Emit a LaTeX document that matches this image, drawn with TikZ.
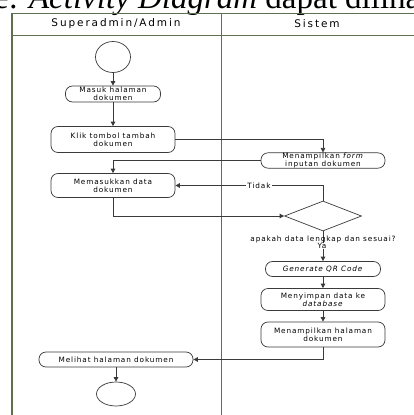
\documentclass[tikz,border=0pt]{standalone}
\usepackage{fontspec}
\setmainfont{Liberation Serif}
\newfontfamily\boxfont[LetterSpace=12]{DejaVu Sans}
\newfontfamily\headfont[LetterSpace=18]{DejaVu Sans}
\usetikzlibrary{arrows.meta,shapes.geometric}
\definecolor{lane}{HTML}{5E7050}
\definecolor{ink}{HTML}{3A3A3A}
\tikzset{
  act/.style={draw=ink, line width=0.7pt, rounded corners=7pt, align=center, inner sep=0pt,
    font=\boxfont\fontsize{7.3}{8.3}\selectfont},
  lbl/.style={font=\boxfont\fontsize{7.3}{8.3}\selectfont, inner sep=1pt},
  conn/.style={draw=ink, line width=0.7pt, -{Triangle[length=4.5pt,width=4.5pt]}},
  lanel/.style={draw=lane, line width=0.9pt},
  terminal/.style={draw=ink, line width=0.7pt, ellipse, inner sep=0pt}
}
\begin{document}
\begin{tikzpicture}[x=1pt,y=-1pt]
\useasboundingbox (0,0) rectangle (414,415);
\fill[white] (0,0) rectangle (414,415);
% cropped caption line at top
\begin{scope}
\clip (0,0) rectangle (414,415);
\node[anchor=base west, inner sep=0pt, font=\fontsize{33}{33}\selectfont] (cap) at (-6,9) {e: \textit{Activity Diagram} dapat dilihat};
\end{scope}
% swimlanes
\draw[lanel] (12,13) -- (414,13);
\draw[lanel] (12,35) -- (414,35);
\draw[lanel, line width=1.4pt] (12,13) -- (12,415);
\draw[lanel] (221,13) -- (221,415);
\node[font=\headfont\fontsize{10.5}{12}\selectfont, inner sep=0pt] (h1) at (116,24) {Superadmin/Admin};
\node[font=\headfont\fontsize{10.5}{12}\selectfont, inner sep=0pt] (h2) at (317,24) {Sistem};
% left lane
\node[terminal, minimum width=35pt, minimum height=31pt] (s) at (113,57) {};
\node[act, minimum width=95pt, minimum height=16pt] (a1) at (113,94) {Masuk halaman\\dokumen};
\node[act, minimum width=124pt, minimum height=26pt] (a2) at (113,139.5) {Klik tombol tambah\\dokumen};
\node[act, minimum width=124pt, minimum height=24pt] (a3) at (113,185.5) {Memasukkan data\\dokumen};
\node[act, minimum width=154pt, minimum height=15pt] (mel) at (116,359.5) {Melihat halaman dokumen};
\node[terminal, minimum width=39pt, minimum height=24pt] (e) at (116,394) {};
% right lane
\node[act, minimum width=124pt, minimum height=15pt] (a4) at (323,160.5) {Menampilkan \textit{form}\\inputan dokumen};
\node[draw=ink, line width=0.7pt, diamond, aspect=2.6, minimum width=77pt, minimum height=30pt, inner sep=0pt] (d) at (323,216) {};
\node[act, minimum width=115pt, minimum height=15pt] (g) at (323,269) {\textit{Generate QR Code}};
\node[act, minimum width=124pt, minimum height=22pt] (m1) at (323,299.5) {Menyimpan data ke\\\textit{database}};
\node[act, minimum width=124pt, minimum height=25pt] (m2) at (323,334.5) {Menampilkan halaman\\dokumen};
% connectors
\draw[conn] (s) -- (a1);
\draw[conn] (a1) -- (a2);
\draw[conn] (a2.east) -| (a4.north);
\draw[conn] (a4.west) -| (a3.north);
\draw[conn] (d.north) |- (a3.east);
\node[lbl, fill=white] (tidak) at (259,186) {Tidak};
\draw[conn] (a3.south) |- (d.west);
\draw[conn] (d.south) -- (g.north);
\node[lbl] (q) at (323,239) {apakah data lengkap dan sesuai?};
\node[lbl, fill=white, inner sep=0.5pt] (ya) at (322,246) {Ya};
\draw[conn] (g) -- (m1);
\draw[conn] (m1) -- (m2);
\draw[conn] (m2.south) |- (mel.east);
\draw[conn] (mel) -- (e);
\end{tikzpicture}
\end{document}
